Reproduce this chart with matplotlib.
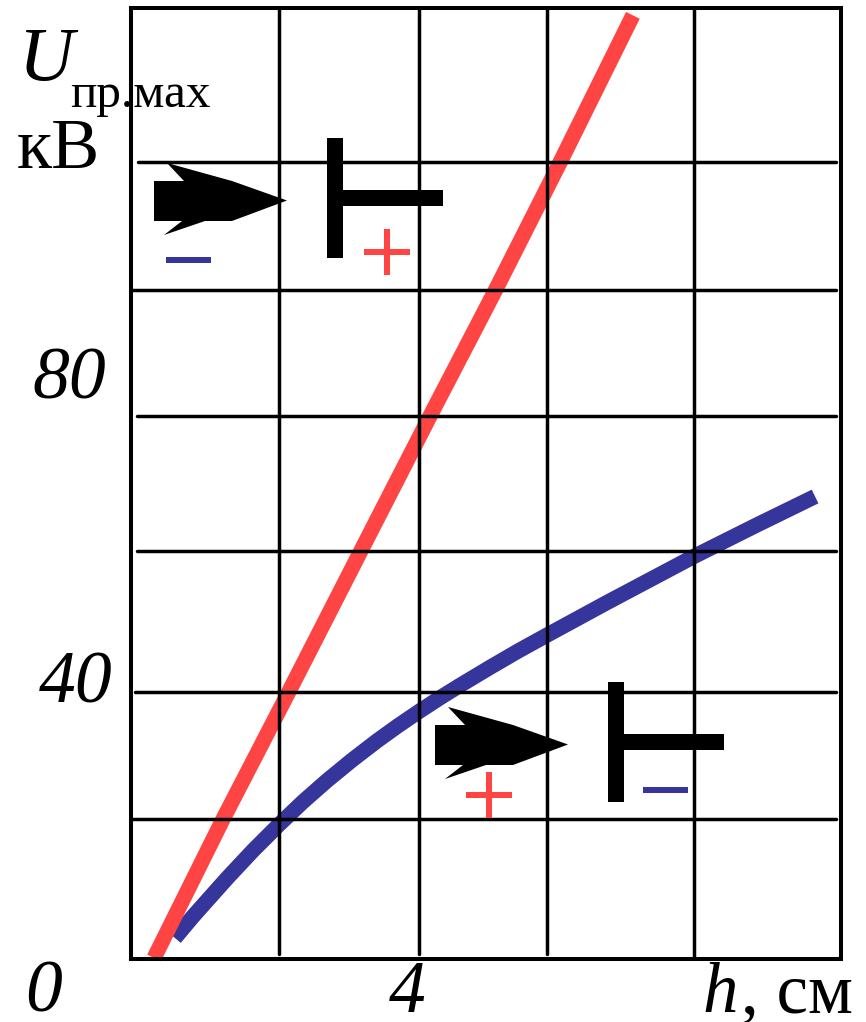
import matplotlib
matplotlib.use('Agg')
import matplotlib.pyplot as plt
from matplotlib.patches import Polygon, Rectangle

# curves, h in cm / U in kV
h_red = [0.32, 1.28, 2.19, 3.19, 4.15, 5.06, 5.96, 6.97]
u_red = [0.15, 21.0, 40.0, 61.1, 81.3, 100.2, 119.4, 141.4]
h_blue = [0.61, 0.861, 1.333, 1.694, 2.056, 2.389, 2.722, 3.069, 3.417, 3.708, 4.0, 4.292,
          4.569, 4.986, 5.375, 5.778, 6.611, 7.819, 8.694, 9.5]
u_blue = [3.15, 6.38, 12.09, 16.25, 20.15, 23.57, 26.73, 29.80, 32.69, 34.95, 37.09, 39.15,
          41.0, 43.7, 46.14, 48.54, 53.42, 60.33, 65.05, 69.30]

# grid lines
grid_h = [2.05, 4.0, 5.78, 7.82]
grid_h_start = [0.75, 0.75, 0.75, 0.0]
grid_u = [21.0, 40.0, 61.1, 81.3, 100.2, 119.4]
grid_u_start = [0.0, 0.05, 0.08, 0.08, 0.0, 0.1]

RED = '#ff4444'
BLUE = '#35359b'
W, H = 866, 1022

fig = plt.figure(figsize=(W / 100, H / 100), dpi=100)
ax = fig.add_axes([131 / W, 1 - 959 / H, 710 / W, 951 / H])
ax.set_xlim(0, 9.86)
ax.set_ylim(0, 142.5)
ax.set_xticks([])
ax.set_yticks([])
for s in ax.spines.values():
    s.set_linewidth(2.9)

for x, y0 in zip(grid_h, grid_h_start):
    ax.plot([x, x], [y0, 142.5], color='k', lw=2.5, zorder=3, solid_capstyle='round')
for y, x0 in zip(grid_u, grid_u_start):
    ax.plot([x0, 9.79], [y, y], color='k', lw=2.5, zorder=3, solid_capstyle='round')

ax.plot(h_blue, u_blue, color=BLUE, lw=11, solid_capstyle='butt', solid_joinstyle='round',
        zorder=2, clip_on=False)
ax.plot(h_red, u_red, color=RED, lw=11, solid_capstyle='butt', solid_joinstyle='round',
        zorder=2.5, clip_on=False)


def to_fig(x, y):
    return x / W, 1 - y / H


def box(x0, y0, x1, y1, color):
    fig.add_artist(Rectangle(to_fig(x0, y1), (x1 - x0) / W, (y1 - y0) / H,
                             transform=fig.transFigure, color=color, lw=0, zorder=5))


def electrode(dx, dy):
    pts = [(154, 181), (184, 181), (167, 163), (232, 181), (287, 200.5), (232, 221),
           (205, 221), (164, 235), (182, 221), (154, 221)]
    fig.add_artist(Polygon([to_fig(x + dx, y + dy) for x, y in pts], closed=True,
                           transform=fig.transFigure, color='k', lw=0, zorder=5))
    box(327 + dx, 138 + dy, 343 + dx, 258 + dy, 'k')
    box(343 + dx, 190 + dy, 443 + dx, 206 + dy, 'k')


def plus(cx, cy):
    box(cx - 23, cy - 3, cx + 23, cy + 3, RED)
    box(cx - 3, cy - 23, cx + 3, cy + 23, RED)


electrode(0, 0)
electrode(281, 544)
plus(387, 252)
plus(489, 795)
box(166, 257, 211, 263, BLUE)
box(643, 787, 688, 793, BLUE)


def label(x, y, s, size, style='normal'):
    fx, fy = to_fig(x, y)
    fig.text(fx, fy, s, fontsize=size, style=style, family='Liberation Serif',
             ha='left', va='baseline', zorder=6)


label(19, 80, 'U', 55, 'italic')
label(70, 107, 'пр.мах', 35.5)
label(17, 168, 'кВ', 52)
label(32, 398, '80', 53, 'italic')
label(39, 702, '40', 53, 'italic')
label(25, 1012, '0', 53, 'italic')
label(389, 1012, '4', 53, 'italic')
label(702, 1012, 'h', 51, 'italic')
label(741, 1012, ', см', 51)

fig.savefig('out.png', dpi=100)
